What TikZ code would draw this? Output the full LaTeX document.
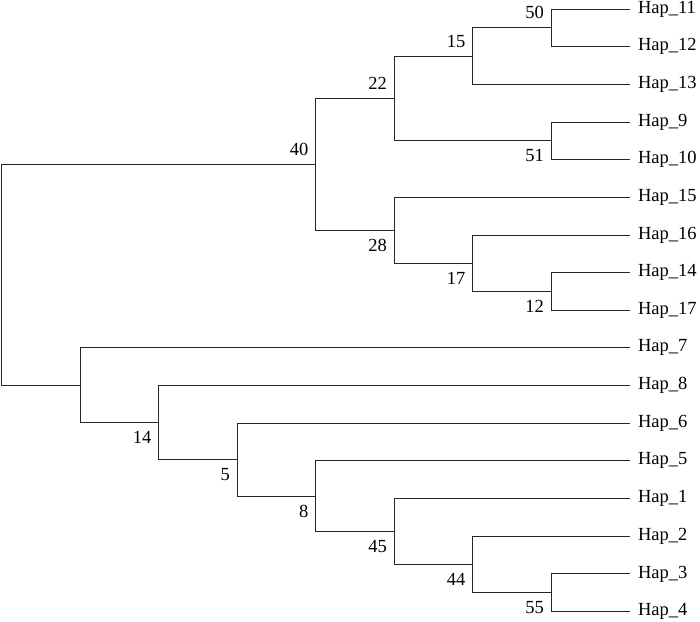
\documentclass[tikz,border=0pt]{standalone}
\usepackage{fontspec}
\setmainfont{Liberation Serif}
\usetikzlibrary{positioning}

\begin{document}
\begin{tikzpicture}[x=1pt,y=-1pt,
  hap/.style={anchor=west,inner xsep=8.5pt,inner ysep=0pt,outer sep=0pt,font=\fontsize{18.5}{20}\selectfont},
  boot/.style={inner sep=0pt,font=\fontsize{18.5}{20}\selectfont},
  branch/.style={line width=1pt,black!85}]
  \useasboundingbox (0,0) rectangle (700,621);
  \node[hap] (h11) at (629.5,9.0) {Hap\_11};
  \node[hap] (h12) at (629.5,46.7) {Hap\_12};
  \node[hap] (h13) at (629.5,84.3) {Hap\_13};
  \node[hap] (h9) at (629.5,122.0) {Hap\_9};
  \node[hap] (h10) at (629.5,159.6) {Hap\_10};
  \node[hap] (h15) at (629.5,197.3) {Hap\_15};
  \node[hap] (h16) at (629.5,235.0) {Hap\_16};
  \node[hap] (h14) at (629.5,272.6) {Hap\_14};
  \node[hap] (h17) at (629.5,310.3) {Hap\_17};
  \node[hap] (h7) at (629.5,347.9) {Hap\_7};
  \node[hap] (h8) at (629.5,385.6) {Hap\_8};
  \node[hap] (h6) at (629.5,423.3) {Hap\_6};
  \node[hap] (h5) at (629.5,460.9) {Hap\_5};
  \node[hap] (h1) at (629.5,498.6) {Hap\_1};
  \node[hap] (h2) at (629.5,536.2) {Hap\_2};
  \node[hap] (h3) at (629.5,573.9) {Hap\_3};
  \node[hap] (h4) at (629.5,611.6) {Hap\_4};
  \coordinate (root) at (1.5,274.8);
  \coordinate (n40) at (315.5,164.35);
  \coordinate (n22) at (394,98.45);
  \coordinate (n15) at (472.5,56.1);
  \coordinate (n50) at (551,27.85);
  \coordinate (n51) at (551,140.8);
  \coordinate (n28) at (394,230.25);
  \coordinate (n17) at (472.5,263.2);
  \coordinate (n12) at (551,291.45);
  \coordinate (na) at (80,385.3);
  \coordinate (n14) at (158.5,422.7);
  \coordinate (n5) at (237,459.75);
  \coordinate (n8) at (315.5,496.2);
  \coordinate (n45) at (394,531.55);
  \coordinate (n44) at (472.5,564.5);
  \coordinate (n55) at (551,592.75);
  \draw[branch] (root) |- (n40);
  \draw[branch] (root) |- (na);
  \draw[branch] (n40) |- (n22);
  \draw[branch] (n40) |- (n28);
  \draw[branch] (n22) |- (n15);
  \draw[branch] (n22) |- (n51);
  \draw[branch] (n15) |- (n50);
  \draw[branch] (n15) |- (h13);
  \draw[branch] (n50) |- (h11);
  \draw[branch] (n50) |- (h12);
  \draw[branch] (n51) |- (h9);
  \draw[branch] (n51) |- (h10);
  \draw[branch] (n28) |- (h15);
  \draw[branch] (n28) |- (n17);
  \draw[branch] (n17) |- (h16);
  \draw[branch] (n17) |- (n12);
  \draw[branch] (n12) |- (h14);
  \draw[branch] (n12) |- (h17);
  \draw[branch] (na) |- (h7);
  \draw[branch] (na) |- (n14);
  \draw[branch] (n14) |- (h8);
  \draw[branch] (n14) |- (n5);
  \draw[branch] (n5) |- (h6);
  \draw[branch] (n5) |- (n8);
  \draw[branch] (n8) |- (h5);
  \draw[branch] (n8) |- (n45);
  \draw[branch] (n45) |- (h1);
  \draw[branch] (n45) |- (n44);
  \draw[branch] (n44) |- (h2);
  \draw[branch] (n44) |- (n55);
  \draw[branch] (n55) |- (h3);
  \draw[branch] (n55) |- (h4);
  \node[boot, above left=8.5pt and 7pt of n40] (b40) {40};
  \node[boot, above left=8.5pt and 7pt of n22] (b22) {22};
  \node[boot, above left=8.5pt and 7pt of n15] (b15) {15};
  \node[boot, above left=8.5pt and 7pt of n50] (b50) {50};
  \node[boot, below left=8.5pt and 7pt of n51] (b51) {51};
  \node[boot, below left=8.5pt and 7pt of n28] (b28) {28};
  \node[boot, below left=8.5pt and 7pt of n17] (b17) {17};
  \node[boot, below left=8.5pt and 7pt of n12] (b12) {12};
  \node[boot, below left=8.5pt and 7pt of n14] (b14) {14};
  \node[boot, below left=8.5pt and 7pt of n5] (b5) {5};
  \node[boot, below left=8.5pt and 7pt of n8] (b8) {8};
  \node[boot, below left=8.5pt and 7pt of n45] (b45) {45};
  \node[boot, below left=8.5pt and 7pt of n44] (b44) {44};
  \node[boot, below left=8.5pt and 7pt of n55] (b55) {55};
\end{tikzpicture}
\end{document}
